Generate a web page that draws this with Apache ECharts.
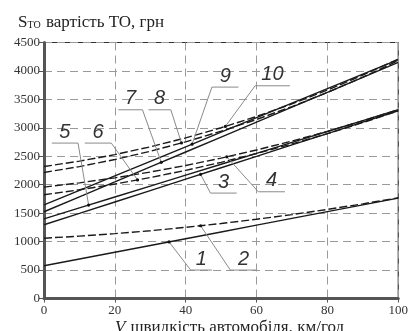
<!DOCTYPE html>
<html><head><meta charset="utf-8">
<script src="https://cdn.jsdelivr.net/npm/echarts@6/dist/echarts.min.js"></script>
<style>html,body{margin:0;padding:0;background:#fff}#c{width:411px;height:331px}</style>
</head><body><div id="c"></div>
<script>
// speed, km/h
const speeds = [0, 10, 20, 30, 40, 50, 60, 70, 80, 90, 100];
// cost of maintenance, UAH (solid = odd numbers, dashed = even numbers)
const line1  = [575, 694, 813, 932, 1051, 1170, 1289, 1408, 1527, 1646, 1765];
const line2  = [1060, 1096, 1140, 1191, 1251, 1318, 1393, 1475, 1566, 1664, 1770];
const line3  = [1296, 1496, 1697, 1897, 2098, 2298, 2498, 2699, 2899, 3100, 3300];
const line4  = [1958, 2033, 2121, 2223, 2338, 2468, 2611, 2767, 2938, 3122, 3320];
const line5  = [1400, 1592, 1784, 1976, 2168, 2360, 2552, 2744, 2936, 3128, 3320];
const line6  = [1823, 1911, 2012, 2126, 2253, 2394, 2549, 2717, 2897, 3092, 3300];
const line7  = [1525, 1788, 2050, 2313, 2575, 2838, 3100, 3363, 3625, 3888, 4150];
const line8  = [2215, 2319, 2443, 2588, 2754, 2941, 3147, 3374, 3622, 3890, 4180];
const line9  = [1645, 1901, 2156, 2412, 2667, 2923, 3178, 3434, 3689, 3945, 4200];
const line10 = [2320, 2414, 2529, 2666, 2823, 3001, 3200, 3421, 3663, 3926, 4210];
const seriesNames = ['1','2','3','4','5','6','7','8','9','10'];
const seriesData = [line1,line2,line3,line4,line5,line6,line7,line8,line9,line10];
const xTicks = [0, 20, 40, 60, 80, 100];
const yTicks = [0, 500, 1000, 1500, 2000, 2500, 3000, 3500, 4000, 4500];
// callout labels: [anchor speed on curve, elbow speed, elbow cost, underline end speed]
const callouts = [
  [35.3, 41.4, 500, 47.4],
  [44.2, 52.6, 500, 60.0],
  [44.2, 47.0, 1853, 54.4],
  [51.6, 60.5, 1876, 68.0],
  [12.6, 9.6, 2732, 2.2],
  [26.4, 19.0, 2732, 11.5],
  [33.1, 27.8, 3317, 21.0],
  [38.8, 35.8, 3317, 29.5],
  [41.8, 47.4, 3716, 54.9],
  [51.2, 59.6, 3739, 69.4]
];

const chart = echarts.init(document.getElementById('c'), null, {renderer: 'canvas'});
const serif = 'Liberation Serif';
const gridDash = {color: '#9a9a9a', width: 1, type: [8, 5]};

const series = seriesData.map((arr, i) => ({
  name: seriesNames[i],
  type: 'line',
  data: arr.map((v, k) => [speeds[k], v]),
  showSymbol: false,
  symbol: 'none',
  silent: true,
  lineStyle: {color: '#1a1a1a', width: 1.4, type: (i % 2 === 1) ? [8, 3] : 'solid'},
  z: 3
}));

chart.setOption({
  animation: false,
  backgroundColor: '#fff',
  title: [{
    text: '{s|S}{sub|ТО}{t| вартість ТО, грн}',
    left: 13, top: 9,
    textStyle: {
      fontWeight: 'normal',
      rich: {
        s: {fontFamily: serif, fontSize: 17, fontWeight: 'normal', color: '#222'},
        sub: {fontFamily: serif, fontSize: 10, fontWeight: 'normal', color: '#222', padding: [6, 1, 0, 0]},
        t: {fontFamily: serif, fontSize: 17, fontWeight: 'normal', color: '#222'}
      }
    }
  }, {
    text: '{v|V} {t|швидкість автомобіля, км/год}',
    left: 110, top: 314,
    textStyle: {
      fontWeight: 'normal',
      rich: {
        v: {fontFamily: serif, fontSize: 17, fontStyle: 'italic', fontWeight: 'normal', color: '#222'},
        t: {fontFamily: serif, fontSize: 17, fontWeight: 'normal', color: '#222'}
      }
    }
  }],
  grid: {left: 44, right: 10, top: 42.5, bottom: 32.5, show: true, borderColor: '#333', borderWidth: 1.2},
  xAxis: {
    type: 'value', min: 0, max: 100, interval: 20,
    axisLine: {show: true, onZero: false, lineStyle: {color: '#555', width: 3}},
    axisTick: {show: true, length: 4, lineStyle: {color: '#555', width: 1}},
    axisLabel: {fontFamily: serif, fontSize: 13, color: '#333', margin: 6,
      formatter: v => xTicks.includes(v) ? String(v) : ''},
    splitLine: {show: true, lineStyle: gridDash}
  },
  yAxis: {
    type: 'value', min: 0, max: 4500, interval: 500,
    axisLine: {show: true, onZero: false, lineStyle: {color: '#555', width: 3}},
    axisTick: {show: true, length: 5, lineStyle: {color: '#555', width: 1}},
    axisLabel: {fontFamily: serif, fontSize: 13, color: '#333', margin: 4,
      formatter: v => yTicks.includes(v) ? String(v) : ''},
    splitLine: {show: true, lineStyle: gridDash}
  },
  series: series
});

function interp(arr, x) {
  for (let k = 0; k < speeds.length - 1; k++) {
    if (x >= speeds[k] && x <= speeds[k + 1]) {
      const t = (x - speeds[k]) / (speeds[k + 1] - speeds[k]);
      return arr[k] + t * (arr[k + 1] - arr[k]);
    }
  }
  return arr[arr.length - 1];
}

const graphics = [];
callouts.forEach((c, i) => {
  const [ax, ex, ey, endx] = c;
  const ay = interp(seriesData[i], ax);
  const pA = chart.convertToPixel({gridIndex: 0}, [ax, ay]);
  const pE = chart.convertToPixel({gridIndex: 0}, [ex, ey]);
  const pEnd = chart.convertToPixel({gridIndex: 0}, [endx, ey]);
  graphics.push({
    type: 'polyline', silent: true, z: 10,
    shape: {points: [pA, pE, pEnd]},
    style: {stroke: '#8a8a8a', lineWidth: 1, fill: null}
  });
  graphics.push({
    type: 'circle', silent: true, z: 11,
    shape: {cx: pA[0], cy: pA[1], r: 1.6},
    style: {fill: '#111'}
  });
  graphics.push({
    type: 'text', silent: true, z: 12,
    x: (pE[0] + pEnd[0]) / 2, y: pE[1] - 1,
    style: {text: seriesNames[i], font: 'italic 20px "Liberation Sans", Arial, sans-serif',
      fill: '#333', textAlign: 'center', textVerticalAlign: 'bottom'}
  });
});
chart.setOption({graphic: graphics});
</script>
</body></html>
